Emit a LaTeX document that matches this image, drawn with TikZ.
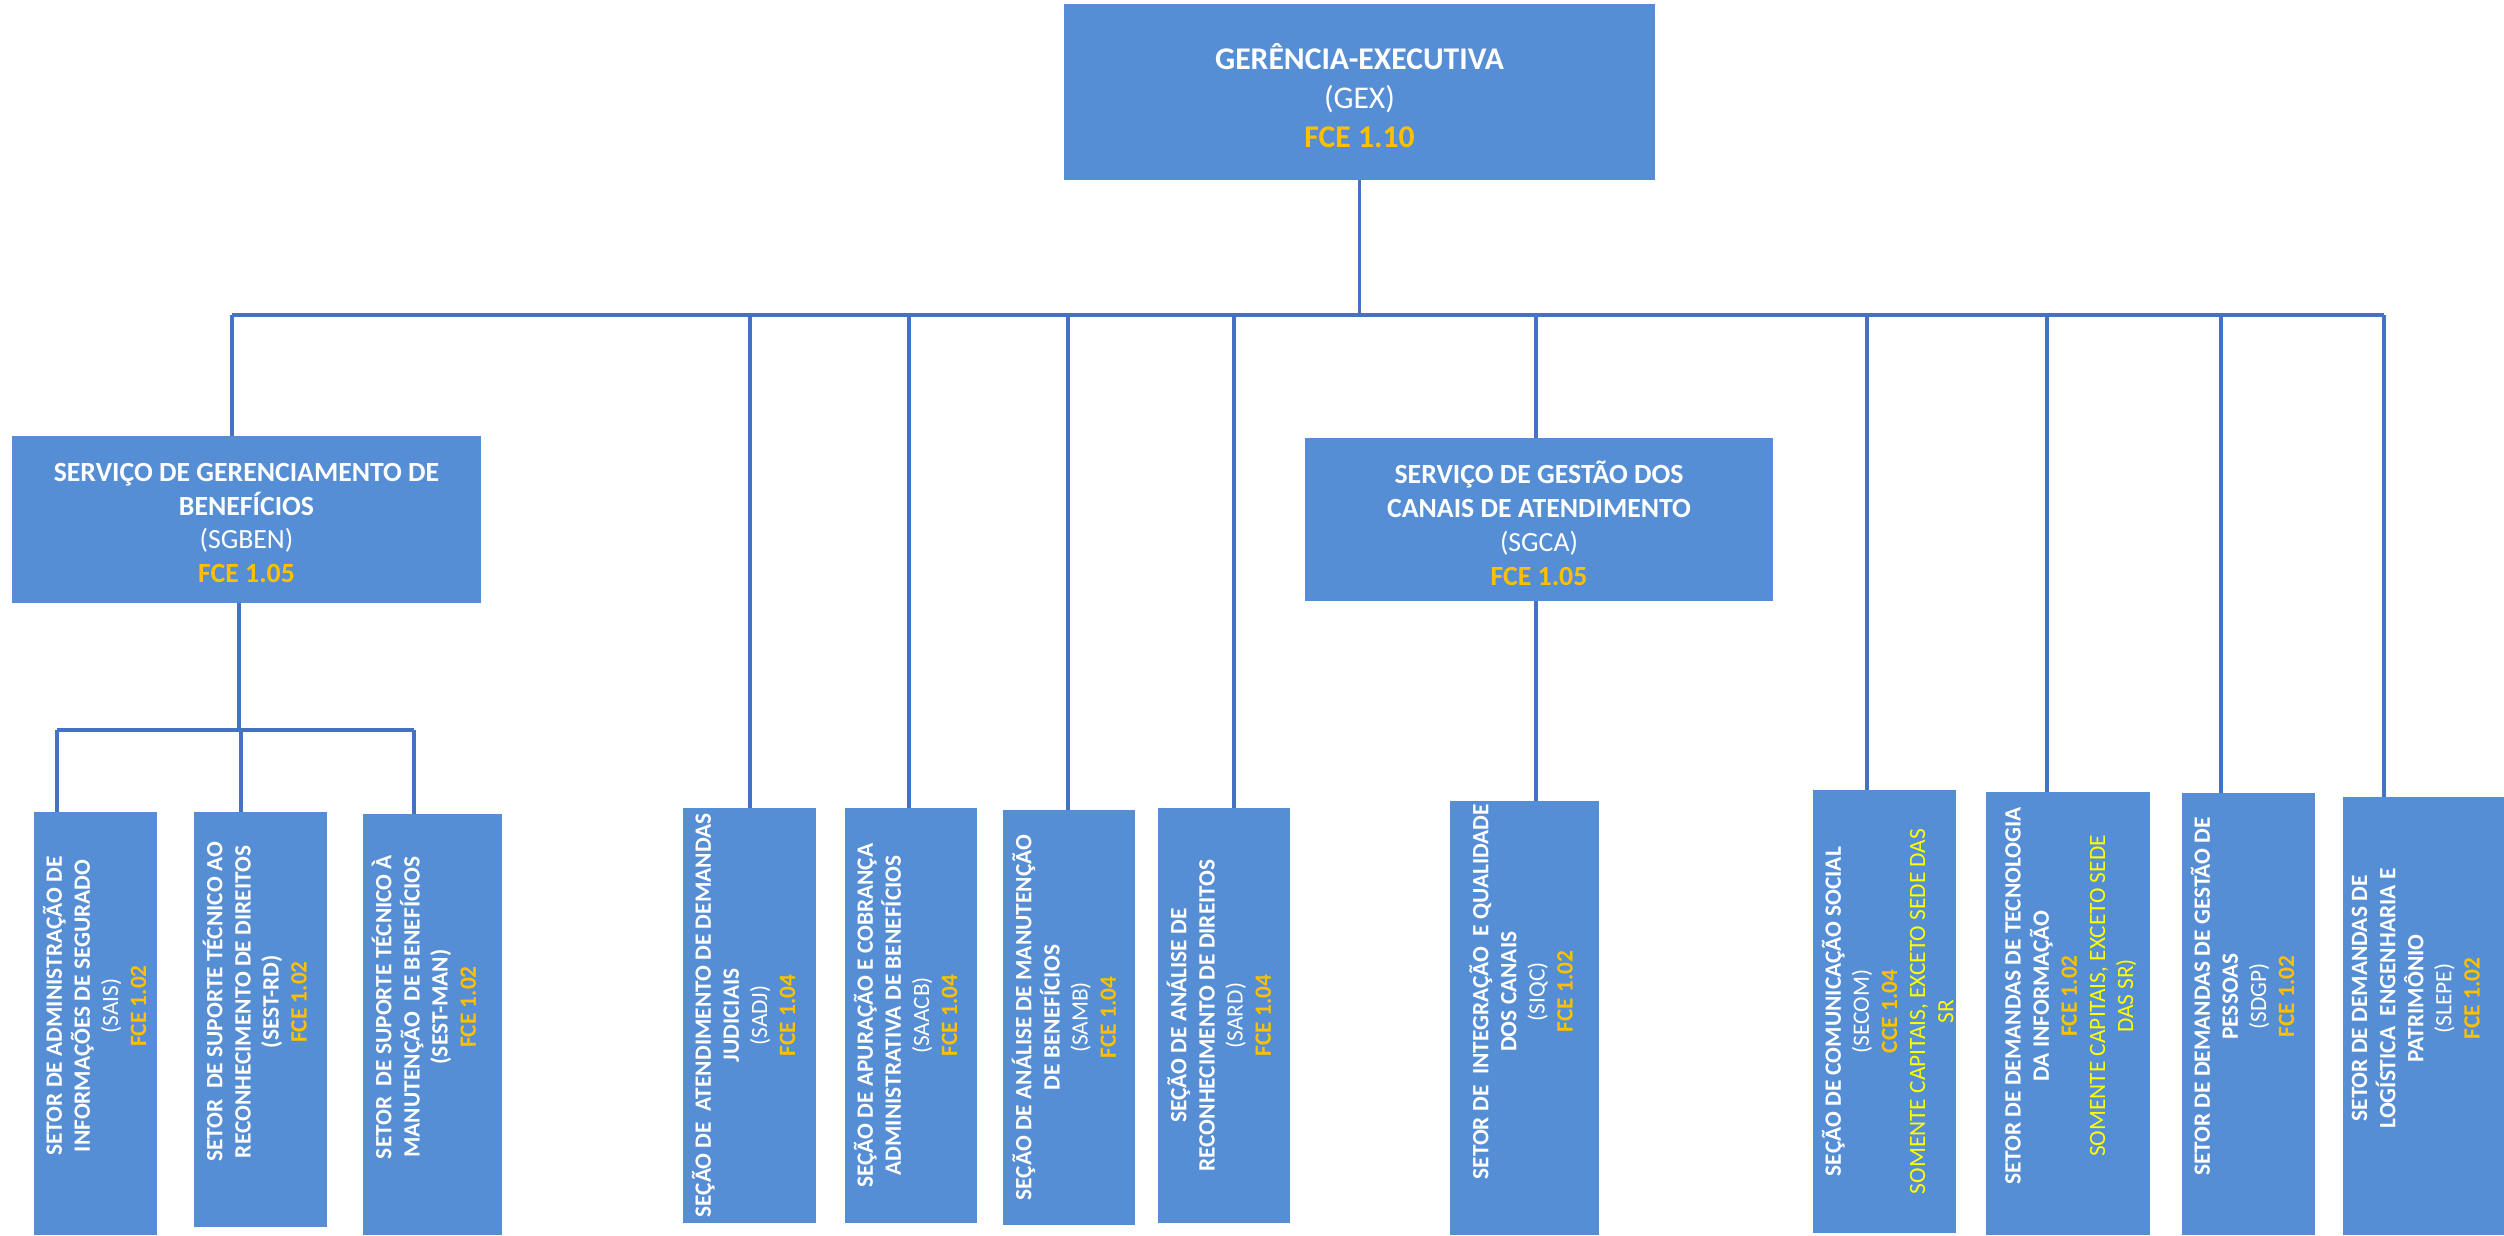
\documentclass[tikz,border=0pt]{standalone}
\usepackage{fontspec}
\setmainfont{Carlito}
\usetikzlibrary{fit,positioning}
\definecolor{boxblue}{HTML}{558ED5}
\definecolor{linkblue}{HTML}{4472C4}
\definecolor{fceorange}{HTML}{FFC000}
\definecolor{sryellow}{HTML}{FFFF00}
\newcommand{\fce}[1]{\textcolor{fceorange}{\textbf{#1}}}
\newcommand{\somente}[1]{\textcolor{sryellow}{#1}}

\begin{document}
\begin{tikzpicture}[x=0.02cm, y=-0.02cm,
    orgbox/.style={rectangle, fill=boxblue, inner sep=0pt},
    toptxt/.style={text=white, align=center, font=\fontsize{18}{22}\selectfont},
    midtxt/.style={text=white, align=center, font=\fontsize{15.8}{19.3}\selectfont},
    vtxt/.style={text=white, align=center, rotate=90, anchor=north,
        inner xsep=2pt, inner ysep=5pt, font=\fontsize{13.3}{16}\selectfont},
    link/.style={draw=linkblue, line width=2pt}
]
    \fill[white] (0,0) rectangle (2504,1235);
    \useasboundingbox (0,0) rectangle (2504,1235);

    % top and service boxes
    \node[orgbox, fit={(1064,4) (1655,180)}] (gex) {};
    \node[orgbox, fit={(12,436) (481,603)}] (sgben) {};
    \node[orgbox, fit={(1305,438) (1773,601)}] (sgca) {};
    \node[toptxt] (gex-t) at ([yshift=-2pt]gex.center)
        {\textbf{GERÊNCIA-EXECUTIVA}\\(GEX)\\\fce{FCE 1.10}};
    \node[midtxt] (sgben-t) at ([yshift=-2pt]sgben.center)
        {\textbf{SERVIÇO DE GERENCIAMENTO DE}\\\textbf{BENEFÍCIOS}\\(SGBEN)\\\fce{FCE 1.05}};
    \node[midtxt] (sgca-t) at ([yshift=-2pt]sgca.center)
        {\textbf{SERVIÇO DE GESTÃO DOS}\\\textbf{CANAIS DE ATENDIMENTO}\\(SGCA)\\\fce{FCE 1.05}};

    % lower boxes
    \node[orgbox, fit={(34,812) (157,1235)}] (sais) {};
    \node[orgbox, fit={(194,812) (327,1227)}] (sestrd) {};
    \node[orgbox, fit={(363,814) (502,1235)}] (sestman) {};
    \node[orgbox, fit={(683,808) (816,1223)}] (sadj) {};
    \node[orgbox, fit={(845,808) (977,1223)}] (saacb) {};
    \node[orgbox, fit={(1003,810) (1135,1225)}] (samb) {};
    \node[orgbox, fit={(1158,808) (1290,1223)}] (sard) {};
    \node[orgbox, fit={(1450,801) (1599,1235)}] (siqc) {};
    \node[orgbox, fit={(1813,790) (1956,1233)}] (secom) {};
    \node[orgbox, fit={(1986,792) (2150,1235)}] (sdti) {};
    \node[orgbox, fit={(2182,793) (2315,1235)}] (sdgp) {};
    \node[orgbox, fit={(2343,797) (2504,1235)}] (slepe) {};

    \node[vtxt] (sais-t) at ([yshift=10pt]sais.west)
        {\textbf{SETOR DE ADMINISTRAÇÃO DE}\\\textbf{INFORMAÇÕES DE SEGURADO}\\(SAIS)\\\fce{FCE 1.02}};
    \node[vtxt] (sestrd-t) at ([yshift=10pt]sestrd.west)
        {\textbf{SETOR\ \ DE SUPORTE TÉCNICO AO}\\\textbf{RECONHECIMENTO DE DIREITOS}\\\textbf{(SEST-RD)}\\\fce{FCE 1.02}};
    \node[vtxt] (sestman-t) at ([yshift=10pt]sestman.west)
        {\textbf{SETOR\ \ DE SUPORTE TÉCNICO À}\\\textbf{MANUTENÇÃO\ \ DE BENEFÍCIOS}\\\textbf{(SEST-MAN)}\\\fce{FCE 1.02}};
    \node[vtxt] (sadj-t) at (sadj.west)
        {\textbf{SEÇÃO DE\ \ ATENDIMENTO DE DEMANDAS}\\\textbf{JUDICIAIS}\\(SADJ)\\\fce{FCE 1.04}};
    \node[vtxt] (saacb-t) at (saacb.west)
        {\textbf{SEÇÃO DE APURAÇÃO E COBRANÇA}\\\textbf{ADMINISTRATIVA DE BENEFÍCIOS}\\(SAACB)\\\fce{FCE 1.04}};
    \node[vtxt] (samb-t) at (samb.west)
        {\textbf{SEÇÃO DE ANÁLISE DE MANUTENÇÃO}\\\textbf{DE BENEFÍCIOS}\\(SAMB)\\\fce{FCE 1.04}};
    \node[vtxt] (sard-t) at (sard.west)
        {\textbf{SEÇÃO DE ANÁLISE DE}\\\textbf{RECONHECIMENTO DE DIREITOS}\\(SARD)\\\fce{FCE 1.04}};
    \node[vtxt] (siqc-t) at ([xshift=6pt, yshift=15pt]siqc.west)
        {\textbf{SETOR DE\ \ INTEGRAÇÃO\ \ E QUALIDADE}\\\textbf{DOS CANAIS}\\(SIQC)\\\fce{FCE 1.02}};
    \node[vtxt] (secom-t) at (secom.west)
        {\textbf{SEÇÃO DE COMUNICAÇÃO SOCIAL}\\(SECOM)\\\fce{CCE 1.04}\\\somente{SOMENTE CAPITAIS, EXCETO SEDE DAS}\\\somente{SR}};
    \node[vtxt] (sdti-t) at ([xshift=6pt, yshift=10pt]sdti.west)
        {\textbf{SETOR DE DEMANDAS DE TECNOLOGIA}\\\textbf{DA INFORMAÇÃO}\\\fce{FCE 1.02}\\\somente{SOMENTE CAPITAIS, EXCETO SEDE}\\\somente{DAS SR)}};
    \node[vtxt] (sdgp-t) at ([yshift=10pt]sdgp.west)
        {\textbf{SETOR DE DEMANDAS DE GESTÃO DE}\\\textbf{PESSOAS}\\(SDGP)\\\fce{FCE 1.02}};
    \node[vtxt] (slepe-t) at ([yshift=10pt]slepe.west)
        {\textbf{SETOR DE DEMANDAS DE}\\\textbf{LOGÍSTICA\ \ ENGENHARIA E}\\\textbf{PATRIMÔNIO}\\(SLEPE)\\\fce{FCE 1.02}};

    % connectors
    \coordinate (busL) at (232,315);
    \coordinate (busR) at (2384,315);
    \draw[link] (gex.south) -- (gex.south |- busL);
    \draw[link] (busL) -- (busR);
    \foreach \nd/\xx in {sgben/232, sadj/750, saacb/909, samb/1068, sard/1234,
                         sgca/1536, secom/1867, sdti/2047, sdgp/2221, slepe/2384}{
        \coordinate (b-\nd) at (\xx,315);
        \draw[link] (b-\nd) -- (b-\nd |- \nd.north);
    }

    \coordinate (subL) at (57,730);
    \coordinate (subR) at (414,730);
    \coordinate (s-sgben) at (239,730);
    \draw[link] (s-sgben |- sgben.south) -- (s-sgben);
    \draw[link] (subL) -- (subR);
    \foreach \nd/\xx in {sais/57, sestrd/241, sestman/414}{
        \coordinate (s-\nd) at (\xx,730);
        \draw[link] (s-\nd) -- (s-\nd |- \nd.north);
    }

    \coordinate (c-sgca) at (1536,601);
    \draw[link] (c-sgca |- sgca.south) -- (c-sgca |- siqc.north);
\end{tikzpicture}
\end{document}
